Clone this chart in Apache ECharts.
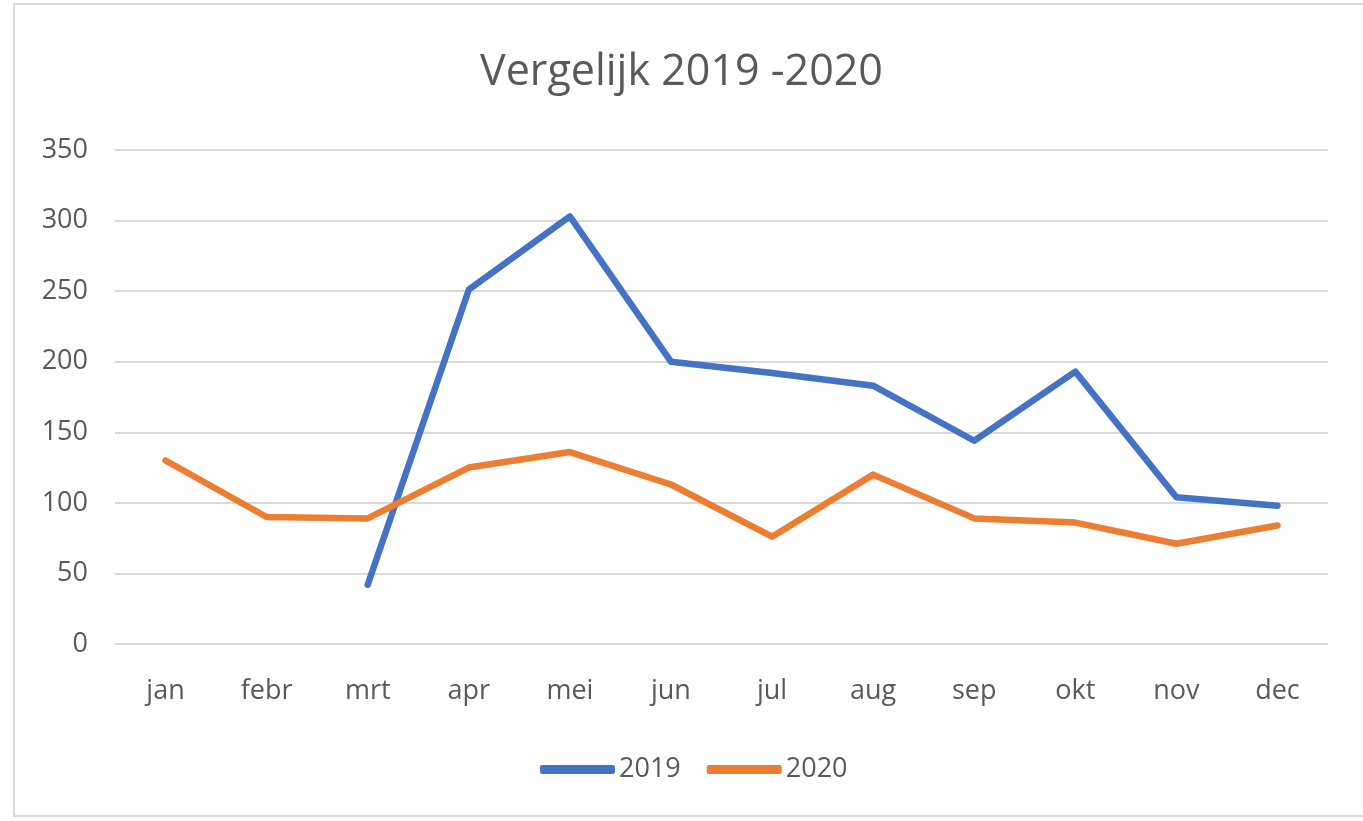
<!DOCTYPE html>
<html>
<head>
<meta charset="utf-8">
<script src="https://cdn.jsdelivr.net/npm/echarts@6/dist/echarts.min.js"></script>
<style>
html,body{margin:0;padding:0;background:#fff;}
#c{width:1363px;height:821px;}
</style>
</head>
<body>
<div id="c"></div>
<script>
const categories = ['jan','febr','mrt','apr','mei','jun','jul','aug','sep','okt','nov','dec'];
const values2019 = [null, null, 42, 251, 303, 200, 192, 183, 144, 193, 104, 98];
const values2020 = [130, 90, 89, 125, 136, 113, 76, 120, 89, 86, 71, 84];
const seriesNames = ['2019', '2020'];
const yTicks = [0, 50, 100, 150, 200, 250, 300, 350];

const chart = echarts.init(document.getElementById('c'));
const font = '"Open Sans", "Noto Sans", sans-serif';
chart.setOption({
  animation: false,
  title: {
    text: 'Vergelijk 2019 -2020',
    left: 'center',
    top: 46,
    textStyle: { fontFamily: font, fontSize: 43, fontWeight: 'normal', color: '#595959' }
  },
  graphic: [{
    type: 'rect',
    shape: { x: 14, y: 4, width: 1400, height: 812 },
    style: { fill: 'none', stroke: '#d9d9d9', lineWidth: 2 },
    silent: true
  }],
  grid: { left: 115, right: 35, top: 150, bottom: 177 },
  legend: {
    data: seriesNames,
    bottom: 33,
    left: 535,
    icon: 'roundRect',
    itemWidth: 75,
    itemHeight: 9,
    itemGap: 26,
    textStyle: { fontFamily: font, fontSize: 27, color: '#595959', padding: [0, 0, 0, -1] }
  },
  xAxis: {
    type: 'category',
    data: categories,
    boundaryGap: true,
    axisLine: { show: false },
    axisTick: { show: false },
    axisLabel: { fontFamily: font, fontSize: 27, color: '#595959', margin: 34 }
  },
  yAxis: {
    type: 'value',
    min: yTicks[0],
    max: yTicks[yTicks.length - 1],
    interval: 50,
    axisLine: { show: false },
    axisTick: { show: false },
    splitLine: { lineStyle: { color: '#d9d9d9', width: 2 } },
    axisLabel: { fontFamily: font, fontSize: 27, color: '#595959', margin: 27, align: 'right' }
  },
  series: [
    {
      name: seriesNames[0], type: 'line', data: values2019,
      symbol: 'none', connectNulls: false,
      lineStyle: { color: '#4472C4', width: 6.5, cap: 'round', join: 'round' },
      itemStyle: { color: '#4472C4' }
    },
    {
      name: seriesNames[1], type: 'line', data: values2020,
      symbol: 'none',
      lineStyle: { color: '#ED7D31', width: 6.5, cap: 'round', join: 'round' },
      itemStyle: { color: '#ED7D31' }
    }
  ]
});
</script>
</body>
</html>
